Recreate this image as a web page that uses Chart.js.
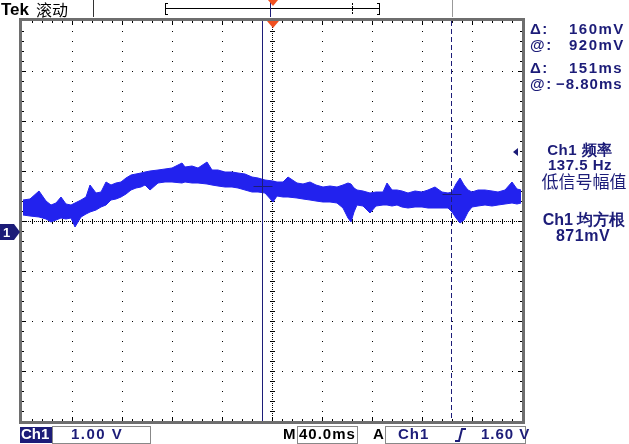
<!DOCTYPE html>
<html>
<head>
<meta charset="utf-8">
<script src="https://cdn.jsdelivr.net/npm/chart.js@4.4.0/dist/chart.umd.min.js"></script>
<style>
  html, body { margin: 0; padding: 0; background: #fff; }
  #wrap { width: 629px; height: 444px; position: relative; }
</style>
</head>
<body>
<div id="wrap"><canvas id="scope" width="629" height="444"></canvas></div>
<script>
// trace envelope (time in ms from trigger, volts from ground)
var timesMs = [-200.0, -194.4, -187.2, -181.6, -177.6, -173.6, -169.6, -165.6, -161.6, -158.4,
    -153.6, -149.6, -146.4, -141.6, -137.6, -133.6, -129.6, -125.6, -121.6, -117.6,
    -113.6, -109.6, -105.6, -102.4, -98.4, -92.0, -86.4, -80.8, -72.8, -70.4,
    -64.8, -60.0, -52.8, -48.8, -44.0, -38.4, -32.8, -28.0, -22.4, -16.8,
    -12.0, -6.4, 0, 3.2, 8.0, 12.0, 19.2, 24.0, 29.6, 34.4,
    40.0, 45.6, 51.2, 56.0, 60.0, 62.4, 64.8, 67.2, 72.0, 77.6,
    82.4, 88.0, 91.2, 95.2, 99.2, 103.2, 108.0, 113.6, 119.2, 124.0,
    129.6, 135.2, 140.0, 143.2, 146.4, 149.6, 152.8, 156.0, 159.2, 164.0,
    169.6, 175.2, 180.0, 185.6, 191.2, 195.2, 198.4];
var upperV = [0.64, 0.66, 0.82, 0.62, 0.54, 0.58, 0.70, 0.56, 0.54, 0.58,
    0.64, 0.70, 0.94, 0.78, 0.80, 1.00, 0.94, 0.98, 1.00, 1.08,
    1.14, 1.16, 1.18, 1.20, 1.22, 1.24, 1.26, 1.28, 1.38, 1.30,
    1.32, 1.28, 1.40, 1.24, 1.24, 1.20, 1.20, 1.18, 1.16, 1.10,
    1.08, 1.04, 1.02, 1.00, 1.00, 1.10, 0.98, 0.96, 1.00, 0.94,
    0.90, 0.92, 0.90, 0.94, 0.98, 0.96, 0.88, 0.84, 0.82, 0.78,
    0.80, 0.80, 0.98, 0.84, 0.84, 0.82, 0.78, 0.82, 0.80, 0.84,
    0.90, 0.80, 0.78, 0.80, 0.96, 1.08, 0.94, 0.84, 0.80, 0.84,
    0.84, 0.82, 0.80, 0.84, 1.00, 0.86, 0.84];
var lowerV = [0.34, 0.32, 0.30, 0.26, 0.20, 0.24, 0.28, 0.26, 0.28, 0.10,
    0.30, 0.36, 0.40, 0.44, 0.50, 0.54, 0.64, 0.66, 0.70, 0.76,
    0.84, 0.88, 0.90, 0.94, 0.84, 0.98, 1.00, 1.00, 0.98, 1.00,
    0.98, 0.98, 0.96, 0.94, 0.92, 0.90, 0.90, 0.88, 0.84, 0.80,
    0.80, 0.78, 0.60, 0.72, 0.70, 0.70, 0.68, 0.66, 0.64, 0.62,
    0.60, 0.60, 0.58, 0.48, 0.28, 0.20, 0.40, 0.54, 0.52, 0.38,
    0.52, 0.54, 0.54, 0.52, 0.54, 0.50, 0.48, 0.50, 0.50, 0.48,
    0.48, 0.48, 0.48, 0.40, 0.28, 0.18, 0.24, 0.40, 0.50, 0.52,
    0.54, 0.52, 0.54, 0.56, 0.58, 0.56, 0.58];

// screen settings
var voltsPerDiv = 1.0;
var msPerDiv = 40.0;
var timeMin = -200.8;          // left edge of graticule
var groundDiv = 3.78;          // ground marker, divisions above bottom edge
var cursorTimes = [-8.8, 142.2];
var cursorLevels = [0.92, 0.76];
var triggerLevel = 1.60;

var navy = '#1c1c78';
var traceBlue = 'rgb(34,34,238)';

var graticule = {
    id: 'graticule',
    beforeDatasetsDraw: function(chart) {
        var ctx = chart.ctx, a = chart.chartArea;
        var xs = chart.scales.x, ys = chart.scales.y;
        ctx.save();
        ctx.fillStyle = '#000';
        var i, j, px, py;
        // vertical division lines
        for (i = 1; i < 10; i++) {
            px = Math.round(xs.getPixelForValue(timeMin + i * msPerDiv));
            if (i == 5) continue;
            for (py = a.top + 10; py < a.bottom; py += 10) ctx.fillRect(px, py, 1, 1);
        }
        // horizontal division lines
        for (j = 1; j < 8; j++) {
            py = Math.round(ys.getPixelForValue(ys.min + j * voltsPerDiv));
            if (j == 4) continue;
            for (px = a.left + 10; px < a.right; px += 10) ctx.fillRect(px, py, 1, 1);
        }
        // centre cross with minor ticks
        var cx = Math.round(xs.getPixelForValue(timeMin + 5 * msPerDiv));
        var cy = Math.round(ys.getPixelForValue(ys.min + 4 * voltsPerDiv));
        for (py = a.top; py < a.bottom; py += 2) ctx.fillRect(cx, py, 1, 1);
        for (px = a.left; px < a.right; px += 2) ctx.fillRect(px, cy, 1, 1);
        for (py = a.top + 10; py < a.bottom; py += 10) ctx.fillRect(cx - 2, py, 5, 1);
        for (px = a.left + 10; px < a.right; px += 10) ctx.fillRect(px, cy - 2, 1, 5);
        // frame
        ctx.fillStyle = '#6e6e6e';
        ctx.fillRect(a.left - 3, a.top - 3, a.right - a.left + 6, 3);
        ctx.fillRect(a.left - 3, a.bottom, a.right - a.left + 6, 3);
        ctx.fillRect(a.left - 3, a.top - 3, 3, a.bottom - a.top + 6);
        ctx.fillRect(a.right, a.top - 3, 3, a.bottom - a.top + 6);
        ctx.fillStyle = '#000';
        for (px = a.left + 10; px < a.right; px += 10) {
            var len = ((px - a.left) % 50 == 0) ? 4 : 2;
            ctx.fillRect(px, a.top, 1, len);
            ctx.fillRect(px, a.bottom - len, 1, len);
        }
        for (py = a.top + 10; py < a.bottom; py += 10) {
            var l2 = ((py - a.top) % 50 == 0) ? 4 : 2;
            ctx.fillRect(a.left, py, l2, 1);
            ctx.fillRect(a.right - l2, py, l2, 1);
        }
        ctx.restore();
    },
    afterDatasetsDraw: function(chart) {
        var ctx = chart.ctx, a = chart.chartArea;
        var xs = chart.scales.x, ys = chart.scales.y;
        ctx.save();
        ctx.strokeStyle = navy;
        ctx.lineWidth = 1;
        // time cursors
        for (var k = 0; k < cursorTimes.length; k++) {
            var px = Math.round(xs.getPixelForValue(cursorTimes[k])) + 0.5;
            ctx.setLineDash(k == 0 ? [] : [5, 3]);
            ctx.beginPath(); ctx.moveTo(px, a.top); ctx.lineTo(px, a.bottom); ctx.stroke();
            ctx.setLineDash([]);
            var py = Math.round(ys.getPixelForValue(cursorLevels[k])) + 0.5;
            ctx.beginPath(); ctx.moveTo(px - 9, py); ctx.lineTo(px + 10, py); ctx.stroke();
        }
        // trigger position marker
        var tx = xs.getPixelForValue(0);
        ctx.fillStyle = '#f05020';
        ctx.beginPath(); ctx.moveTo(tx - 6, a.top); ctx.lineTo(tx + 6, a.top); ctx.lineTo(tx, a.top + 7); ctx.closePath(); ctx.fill();
        // trigger level arrow on right
        var ty = ys.getPixelForValue(triggerLevel);
        ctx.fillStyle = navy;
        ctx.beginPath(); ctx.moveTo(a.right - 9, ty); ctx.lineTo(a.right - 4, ty - 4); ctx.lineTo(a.right - 4, ty + 4); ctx.closePath(); ctx.fill();
        // ground marker
        var gy = Math.round(ys.getPixelForValue(0));
        ctx.fillStyle = navy;
        ctx.beginPath();
        ctx.moveTo(0, gy - 8); ctx.lineTo(14, gy - 8); ctx.lineTo(a.left - 2, gy);
        ctx.lineTo(14, gy + 8); ctx.lineTo(0, gy + 8); ctx.closePath(); ctx.fill();
        ctx.fillStyle = '#fff';
        ctx.font = 'bold 13px "Liberation Sans"';
        ctx.textBaseline = 'middle';
        ctx.fillText('1', 3, gy + 1);
        ctx.restore();
    },
    afterDraw: function(chart) {
        var ctx = chart.ctx;
        var xs = chart.scales.x;
        ctx.save();
        ctx.textBaseline = 'middle';
        // header
        ctx.fillStyle = '#000';
        ctx.font = 'bold 17px "Liberation Sans"';
        ctx.fillText('Tek', 1, 10);
        ctx.font = '16px "Noto Sans CJK SC"';
        ctx.fillText('滚动', 36, 10);
        ctx.fillStyle = '#333';
        ctx.fillRect(93, 0, 1, 17);
        ctx.fillStyle = '#999';
        ctx.fillRect(452, 0, 1, 17);
        // record bar
        ctx.fillStyle = '#000';
        ctx.fillRect(165, 8, 215, 1);
        ctx.fillRect(165, 3, 1, 12); ctx.fillRect(165, 3, 3, 1); ctx.fillRect(165, 14, 3, 1);
        ctx.fillRect(379, 3, 1, 12); ctx.fillRect(377, 3, 3, 1); ctx.fillRect(377, 14, 3, 1);
        for (var d = 3; d < 15; d += 3) ctx.fillRect(352, d, 1, 2);
        ctx.fillStyle = navy;
        ctx.fillRect(270, 0, 1, 17);
        var tx = xs.getPixelForValue(0);
        ctx.fillStyle = '#f05020';
        ctx.beginPath(); ctx.moveTo(tx - 5, 0); ctx.lineTo(tx + 5, 0); ctx.lineTo(tx, 6); ctx.closePath(); ctx.fill();

        // cursor readouts
        ctx.fillStyle = navy;
        ctx.font = 'bold 15px "Liberation Sans"';
        ctx.letterSpacing = '1.5px';
        ctx.fillText('Δ:', 530, 30); ctx.fillText('160mV', 569, 30);
        ctx.fillText('@:', 530, 46); ctx.fillText('920mV', 569, 46);
        ctx.fillText('Δ:', 530, 69); ctx.fillText('151ms', 569, 69);
        ctx.fillText('@:', 530, 85);
        ctx.letterSpacing = '1px';
        ctx.fillText('−8.80ms', 556, 85);

        // measurements
        ctx.textAlign = 'center';
        ctx.font = 'bold 15px "Liberation Sans"';
        ctx.letterSpacing = '0.5px';
        ctx.fillText('Ch1 频率', 580, 151);
        ctx.fillText('137.5 Hz', 580, 166);
        ctx.letterSpacing = '0px';
        ctx.font = '17px "Noto Sans CJK SC"';
        ctx.fillText('低信号幅值', 584, 182);
        ctx.font = 'bold 16px "Liberation Sans"';
        ctx.fillText('Ch1 均方根', 584, 221);
        ctx.letterSpacing = '0.5px';
        ctx.fillText('871mV', 583, 237);

        // bottom status bar
        ctx.textAlign = 'left';
        ctx.letterSpacing = '0px';
        ctx.fillStyle = navy;
        ctx.fillRect(20, 427, 32, 16);
        ctx.fillStyle = '#fff';
        ctx.font = 'bold 15px "Liberation Sans"';
        ctx.fillText('Ch1', 21, 435);
        ctx.strokeStyle = '#888';
        ctx.lineWidth = 1;
        ctx.strokeRect(52.5, 426.5, 98, 17);
        ctx.strokeRect(297.5, 426.5, 60, 17);
        ctx.strokeRect(385.5, 426.5, 140, 17);
        ctx.fillStyle = navy;
        ctx.letterSpacing = '1.5px';
        ctx.fillText('1.00 V', 71, 435);
        ctx.fillStyle = '#000';
        ctx.letterSpacing = '1px';
        ctx.fillText('M', 283, 435);
        ctx.fillText('40.0ms', 299, 435);
        ctx.fillText('A', 373, 435);
        ctx.fillStyle = navy;
        ctx.fillText('Ch1', 398, 435);
        ctx.fillText('1.60 V', 481, 435);
        // rising edge symbol
        ctx.strokeStyle = navy;
        ctx.lineWidth = 2;
        ctx.beginPath();
        ctx.moveTo(455, 441); ctx.lineTo(459, 441); ctx.lineTo(462, 429); ctx.lineTo(466, 429);
        ctx.stroke();
        ctx.restore();
    }
};

var points = function(vals) {
    return timesMs.map(function(t, i) { return {x: t, y: vals[i]}; });
};

new Chart(document.getElementById('scope'), {
    type: 'line',
    data: {
        datasets: [{
            label: 'Ch1 max',
            data: points(upperV),
            borderColor: traceBlue,
            backgroundColor: traceBlue,
            borderWidth: 1,
            pointRadius: 0,
            tension: 0,
            fill: '+1'
        }, {
            label: 'Ch1 min',
            data: points(lowerV),
            borderColor: traceBlue,
            backgroundColor: traceBlue,
            borderWidth: 1,
            pointRadius: 0,
            tension: 0,
            fill: false
        }]
    },
    options: {
        responsive: false,
        animation: false,
        events: [],
        layout: {padding: {left: 22, right: 107, top: 21, bottom: 23}},
        plugins: {legend: {display: false}, tooltip: {enabled: false}},
        scales: {
            x: {type: 'linear', display: false, min: timeMin, max: timeMin + 10 * msPerDiv},
            y: {type: 'linear', display: false, min: -groundDiv * voltsPerDiv, max: (8 - groundDiv) * voltsPerDiv}
        }
    },
    plugins: [graticule]
});
</script>
</body>
</html>
